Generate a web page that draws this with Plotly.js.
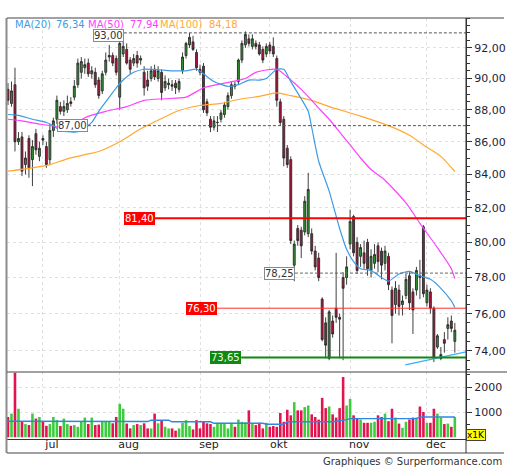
<!DOCTYPE html>
<html><head><meta charset="utf-8">
<script src="https://cdn.plot.ly/plotly-3.0.1.min.js"></script>
<style>html,body{margin:0;padding:0;background:#fff}#chart{width:512px;height:470px}</style>
</head><body><div id="chart"></div>
<script>
// ---- DATA ----
const firstDay = '2018-06-18';
const monthLabels = ['jul','aug','sep','okt','nov','dec'];
const open = [89.3,88.4,89.6,86.0,86.3,84.6,86.2,84.9,86.5,85.1,
86.2,85.7,84.9,86.7,87.4,88.2,87.9,88.0,88.5,88.8,
89.6,90.4,90.7,91.0,90.3,90.4,89.9,89.2,90.4,91.4,
91.5,91.3,88.8,91.6,91.9,91.2,91.0,91.5,91.2,90.4,
89.9,90.0,90.6,90.0,90.4,89.4,89.6,89.6,89.7,89.3,
90.5,91.5,92.2,92.4,91.7,90.6,90.8,88.5,87.4,86.9,
87.2,87.4,87.7,88.2,88.9,89.6,89.8,91.2,92.2,92.6,
92.1,92.3,92.2,91.9,91.6,92.2,92.1,91.3,88.5,87.4,
85.6,84.9,78.7,80.8,80.7,80.6,80.5,80.5,79.5,79.1,
76.8,75.5,73.6,75.6,76.3,75.8,78.0,78.0,79.9,81.5,
80.0,79.2,79.4,80.0,78.4,78.8,79.8,79.5,78.8,79.2,
77.3,76.5,77.3,76.5,77.0,78.1,77.2,77.3,78.1,80.9,
76.6,77.2,76.3,74.2,73.6,74.6,75.2,75.6,74.5];
const high = [89.7,89.8,90.7,86.6,86.6,85.4,86.4,86.1,86.8,86.0,
86.4,86.0,87.1,87.5,88.9,88.5,88.6,88.9,88.8,89.9,
91.3,91.4,91.3,91.3,90.8,90.7,90.1,90.5,91.7,92.2,
91.7,91.5,92.5,92.4,92.3,91.4,91.6,91.8,91.5,90.8,
90.5,90.8,90.9,90.8,90.6,90.2,90.0,89.9,89.9,90.0,
91.7,92.4,93.0,92.8,91.9,90.9,91.0,88.7,87.6,87.6,
87.6,88.0,88.5,89.1,89.8,89.8,91.3,92.5,93.1,92.9,
92.9,92.5,92.4,92.1,92.3,92.4,92.7,91.5,88.7,87.6,
85.8,85.1,80.1,81.0,80.9,82.7,84.1,80.8,79.8,79.4,
76.9,75.8,76.2,75.9,79.4,76.0,78.3,79.2,81.9,81.6,
80.3,79.9,80.1,80.2,79.6,79.9,80.0,79.7,79.8,79.4,
77.5,77.8,77.6,77.0,78.2,78.3,77.4,78.6,79.0,81.0,
77.6,77.4,76.4,74.9,74.2,75.0,75.8,75.9,75.5];
const low = [88.3,88.2,85.4,85.8,83.9,84.0,83.8,83.3,85.2,84.8,
85.8,84.4,84.6,86.3,87.1,87.7,87.6,87.8,88.2,88.6,
89.4,90.0,90.3,90.1,90.0,89.4,88.7,89.0,90.2,91.1,
90.8,90.2,88.0,91.4,90.9,90.3,90.8,90.7,90.9,88.9,
89.2,89.8,89.9,89.8,88.6,89.2,89.3,89.2,89.0,89.1,
90.3,91.3,92.0,91.8,90.5,90.2,87.8,87.6,86.6,86.7,
86.6,87.2,87.5,88.0,88.7,89.3,89.6,91.0,92.0,92.1,
91.9,91.9,91.5,91.0,91.4,91.6,91.4,88.2,87.0,84.5,
84.4,79.9,77.8,79.8,79.1,80.4,80.3,79.3,78.4,77.8,
74.5,73.6,73.5,74.7,75.5,73.6,73.5,77.6,79.6,79.2,
78.2,78.6,78.5,78.1,78.0,78.5,78.3,77.9,78.4,77.3,
74.4,76.0,75.9,75.9,76.8,76.2,74.9,77.0,76.8,76.9,
76.4,76.0,73.4,74.1,73.5,73.9,74.6,75.0,73.9];
const close = [88.6,89.2,86.0,86.2,84.2,85.0,84.4,85.7,85.5,85.6,
86.1,84.6,86.7,87.3,88.6,87.9,88.2,88.4,88.4,89.5,
91.0,91.1,90.9,90.3,90.5,89.6,88.9,90.3,91.2,91.5,
91.0,90.4,92.3,92.1,91.0,90.6,91.3,91.0,91.3,89.4,
89.5,90.5,90.1,90.5,89.1,89.8,89.7,89.5,89.4,89.8,
91.4,92.3,92.7,91.9,90.7,90.4,88.0,87.8,86.9,87.3,
87.2,87.8,88.3,88.9,89.6,89.5,91.2,92.3,92.9,92.3,
92.6,92.1,91.6,91.2,92.1,91.8,91.6,88.6,87.2,85.0,
84.6,80.1,79.9,80.1,79.8,82.4,83.1,79.5,78.6,78.0,
74.6,74.3,76.1,74.9,75.8,75.7,77.4,78.6,81.2,79.4,
78.4,79.7,78.8,78.5,79.2,79.3,78.9,78.7,79.5,77.6,
75.9,77.4,76.4,76.7,77.9,76.6,76.2,78.4,78.0,77.1,
77.3,76.3,73.6,74.8,73.8,74.4,75.4,75.2,75.1];
const volume = [815,950,2590,1145,620,530,490,950,750,815,
620,460,530,815,685,450,750,530,460,490,
420,620,790,530,790,490,510,620,620,620,
560,815,1340,1145,550,355,490,530,490,560,
355,355,950,560,685,420,355,355,265,355,
580,685,450,315,685,355,620,560,530,420,
580,580,530,355,580,420,710,620,600,1080,
530,490,580,355,580,420,450,420,975,620,
1105,880,1410,1080,1080,1210,1275,920,815,710,
1580,1170,1235,920,790,1170,2420,1275,1540,880,
750,710,580,580,580,620,880,815,950,645,
1145,790,550,380,620,710,790,790,1235,1015,
580,580,1145,950,790,530,550,420,815];
// moving averages (day index, value)
const ma20Day = [0,3,7,11,13,15,19,21,24,26,29,31,33,36,39,44,47,51,54,56,59,63,66,69,72,74,77,79,81,84,86,87,89,92,95,97,99,101,104,107,109,112,115,118,121,124,127,128];
const ma20 = [87.7,87.65,87.4,87.2,87.0,86.7,86.6,86.7,87.2,87.9,88.8,89.4,89.9,90.4,90.6,90.55,90.5,90.5,90.6,90.3,89.8,89.5,89.6,89.9,89.9,90.0,90.6,90.6,89.8,88.7,87.9,86.9,84.8,83.0,80.8,79.6,78.9,78.5,78.4,78.0,77.8,78.2,78.35,78.1,77.9,77.4,76.7,76.34];
const ma50Day = [0,4,9,15,20,22,28,34,39,45,51,56,62,68,71,77,81,84,87,89,92,95,98,101,104,108,114,118,123,127,128];
const ma50 = [87.4,87.3,87.1,86.95,87.2,87.5,87.9,88.2,88.6,88.7,88.8,89.4,89.7,90.0,90.4,90.6,89.9,89.3,88.6,88.1,87.4,86.6,85.8,85.0,84.3,83.65,82.3,81.1,79.7,78.5,77.94];
const ma100Day = [0,7,12,17,23,26,32,38,44,49,55,61,66,72,77,81,87,92,101,109,115,119,124,128];
const ma100 = [84.2,84.4,84.6,84.95,85.25,85.4,86.0,86.8,87.45,87.95,88.27,88.4,88.65,88.85,89.07,88.9,88.6,88.2,87.6,87.0,86.4,85.8,85.1,84.18];
const volMaDay = [0,20,21,40,41,46,47,58,59,73,74,79,80,93,97,98,117,118,128];
const volMa = [645,645,630,630,685,685,620,620,560,560,525,525,620,620,710,750,750,815,815];
const trendDay = [113.8,131.3];
const trendVal = [73.25,73.95];
const levels = [93.00,87.00,81.40,78.25,76.30,73.65];
const priceTicks = [74,76,78,80,82,84,86,88,90,92];
const volTicks = [1000,2000];

// ---- STYLE / LAYOUT ----
const levelStyle = [
  {start:33.2, color:'#555', width:1, dash:'3px,2px', bg:'#ffffff', border:'#8a8a8a', txt:'#333', shift:-3},
  {start:22.9, color:'#555', width:1, dash:'3px,2px', bg:'#ffffff', border:'#8a8a8a', txt:'#334', shift:0},
  {start:42.1, color:'#ff0000', width:2, dash:'solid', bg:'#ff0000', border:'#ff0000', txt:'#ffffff', shift:0},
  {start:82.2, color:'#666', width:1, dash:'3px,2px', bg:'#ffffff', border:'#8a8a8a', txt:'#333', shift:0},
  {start:59.9, color:'#ff3030', width:1, dash:'solid', bg:'#ff0000', border:'#ff0000', txt:'#ffffff', shift:0},
  {start:66.8, color:'#118811', width:2, dash:'solid', bg:'#118811', border:'#118811', txt:'#e8ffe8', shift:0}
];
const N = open.length;
const idx = open.map((v,i)=>i);
// business days -> month starts
const dates = [];
{ let d = new Date(firstDay+'T00:00:00Z');
  while (dates.length < N) { const w = d.getUTCDay(); if (w!==0 && w!==6) dates.push(new Date(d)); d.setUTCDate(d.getUTCDate()+1); } }
const monthStarts = [];
for (let i=1;i<N;i++) if (dates[i].getUTCMonth()!==dates[i-1].getUTCMonth()) monthStarts.push(i);

const fmt = v => v.toFixed(2).replace('.', ',');
const r0 = -0.287, r1 = 131.2;
const L=7, R=466, T=18, B=439;
const xP = px => (px-L)/(R-L);
const yP = px => (B-px)/(B-T);
const dv = yP(372);
const grid = '#e0e0e0';
const minorTicks = [];
for (let v=73; v<=94; v+=0.5) if (!priceTicks.includes(v)) minorTicks.push(v);

const traces = [];
traces.push({type:'candlestick', x:idx, open:open, high:high, low:low, close:close, xaxis:'x', yaxis:'y',
  increasing:{line:{color:'#2a2a2a', width:0.9}, fillcolor:'#2f962f'},
  decreasing:{line:{color:'#2a2a2a', width:0.9}, fillcolor:'#b0123c'},
  whiskerwidth:0, hoverinfo:'skip'});
traces.push({type:'scatter', mode:'lines', x:ma100Day, y:ma100, line:{color:'#ffa830', width:1.2, shape:'spline', smoothing:0.6}, xaxis:'x', yaxis:'y', hoverinfo:'skip'});
traces.push({type:'scatter', mode:'lines', x:ma50Day, y:ma50, line:{color:'#ff40ff', width:1.2, shape:'spline', smoothing:0.6}, xaxis:'x', yaxis:'y', hoverinfo:'skip'});
traces.push({type:'scatter', mode:'lines', x:ma20Day, y:ma20, line:{color:'#3c9be6', width:1.2, shape:'spline', smoothing:0.6}, xaxis:'x', yaxis:'y', hoverinfo:'skip'});
traces.push({type:'scatter', mode:'lines', x:trendDay, y:trendVal, line:{color:'#33b0ff', width:1.2}, xaxis:'x', yaxis:'y', hoverinfo:'skip'});
levels.forEach((lv,k)=>{
  const s = levelStyle[k];
  traces.push({type:'scatter', mode:'lines', x:[s.start, r1+1], y:[lv, lv], line:{color:s.color, width:s.width, dash:s.dash}, xaxis:'x', yaxis:'y', hoverinfo:'skip'});
});
traces.push({type:'bar', x:idx, y:volume, xaxis:'x2', yaxis:'y2', width:0.74,
  marker:{color: idx.map(i=> close[i]>=open[i] ? '#3dcc3d' : '#e2134e'), line:{width:0}}, hoverinfo:'skip'});
traces.push({type:'scatter', mode:'lines', x:volMaDay, y:volMa, xaxis:'x2', yaxis:'y2', line:{color:'#2f86e0', width:1.4}, hoverinfo:'skip'});

const annotations = [];
levels.forEach((lv,k)=>{
  const s = levelStyle[k];
  annotations.push({xref:'x', yref:'y', x:s.start, y:Math.log10(lv), xanchor:'right', yanchor:'middle', yshift:s.shift, text:fmt(lv), showarrow:false,
    bgcolor:s.bg, bordercolor:s.border, borderwidth:1, borderpad:0, font:{size:10, color:s.txt}});
});
const legendItems = [
  {t:'MA(20)', px:13, c:'#3c9be6'}, {t:fmt(ma20[ma20.length-1]), px:54, c:'#3c9be6'},
  {t:'MA(50)', px:86, c:'#ff40ff'}, {t:fmt(ma50[ma50.length-1]), px:128, c:'#ff40ff'},
  {t:'MA(100)', px:158, c:'#ffaa33'}, {t:fmt(ma100[ma100.length-1]), px:207, c:'#ffaa33'}
];
legendItems.forEach(it=>annotations.push({xref:'paper', yref:'paper', x:xP(it.px), y:yP(24), xanchor:'left', yanchor:'middle', text:it.t, showarrow:false, font:{size:10, color:it.c}}));
annotations.push({xref:'paper', yref:'paper', x:xP(476), y:yP(435), xanchor:'center', yanchor:'middle', text:'x1K', showarrow:false, bgcolor:'#ffff00', bordercolor:'#444', borderwidth:1, borderpad:0, font:{size:9, color:'#000'}});
annotations.push({xref:'paper', yref:'paper', x:xP(504), y:yP(461), xanchor:'right', yanchor:'middle', text:'Graphiques © Surperformance.com', showarrow:false, font:{size:10, color:'#333'}});

const shapes = [
  {type:'line', xref:'paper', yref:'paper', x0:xP(6.5), x1:xP(6.5), y0:yP(453), y1:1, line:{color:'#8c8c8c', width:2}},
  {type:'line', xref:'paper', yref:'paper', x0:0, x1:xP(504), y0:1, y1:1, line:{color:'#444', width:1}},
  {type:'line', xref:'paper', yref:'paper', x0:0, x1:xP(507), y0:dv, y1:dv, line:{color:'#444', width:1}},
  {type:'line', xref:'paper', yref:'paper', x0:0, x1:xP(504), y0:yP(453), y1:yP(453), line:{color:'#444', width:1}},
  {type:'line', xref:'paper', yref:'paper', x0:1, x1:1, y0:yP(453), y1:1, line:{color:'#333', width:1}}
];

const layout = {
  width:512, height:470, margin:{l:L, r:512-R, t:T, b:470-B}, paper_bgcolor:'#fff', plot_bgcolor:'#fff',
  showlegend:false, separators:',.', boxgap:0.22, bargap:0.25,
  font:{family:'DejaVu Sans, Verdana, sans-serif', size:11, color:'#222'},
  xaxis:{domain:[0,1], anchor:'y', range:[r0,r1], tickvals:monthStarts, showticklabels:false, ticks:'',
    showgrid:true, gridcolor:grid, griddash:'dot', zeroline:false, showline:false, rangeslider:{visible:false}, fixedrange:true},
  xaxis2:{domain:[0,1], anchor:'y2', matches:'x', range:[r0,r1], tickvals:monthStarts, ticktext:monthLabels, ticks:'',
    ticklabelshift:9, ticklabelstandoff:-5, showgrid:true, gridcolor:grid, griddash:'dot', zeroline:false,
    showline:true, linecolor:'#333', linewidth:1, tickfont:{size:11, color:'#222'}, fixedrange:true},
  yaxis:{domain:[dv,1], anchor:'x', type:'log', side:'right', range:[Math.log10(72.88), Math.log10(94.0)],
    tickvals:priceTicks, ticktext:priceTicks.map(fmt), ticks:'outside', ticklen:5, tickcolor:'#333',
    showline:true, linecolor:'#333', showgrid:true, gridcolor:grid, griddash:'dot', zeroline:false,
    tickfont:{size:11, color:'#1e1e3a'},
    minor:{tickmode:'array', tickvals:minorTicks, ticks:'outside', ticklen:3, tickcolor:'#333', showgrid:false}, fixedrange:true},
  yaxis2:{domain:[0,dv], anchor:'x2', side:'right', range:[-70,2620], tickvals:volTicks, ticktext:volTicks.map(String),
    ticks:'outside', ticklen:5, tickcolor:'#333', showline:true, linecolor:'#333', showgrid:true, gridcolor:grid, griddash:'dot',
    zeroline:false, tickfont:{size:11, color:'#1e1e3a'},
    minor:{dtick:500, ticks:'outside', ticklen:3, tickcolor:'#333', showgrid:false}, fixedrange:true},
  annotations:annotations, shapes:shapes
};
Plotly.newPlot('chart', traces, layout, {displayModeBar:false, staticPlot:true});
</script>
</body></html>
